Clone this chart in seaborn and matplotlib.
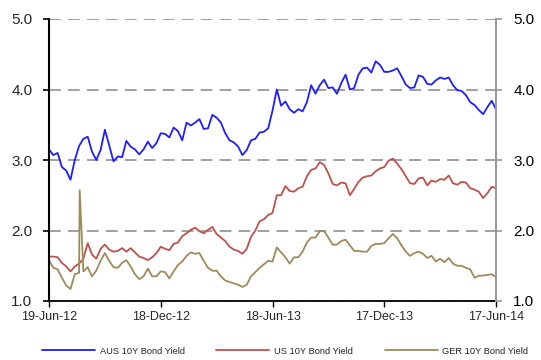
import matplotlib
matplotlib.use("Agg")
import matplotlib.pyplot as plt
import matplotlib.dates as mdates
from matplotlib.lines import Line2D
import seaborn as sns
import pandas as pd

# ---- data (weekly readings starting 19-Jun-2012) ----
start_date = "2012-06-19"
n_weeks = 105

aus = [3.15, 3.07, 3.10, 2.90, 2.85, 2.72, 3.00, 3.20, 3.30, 3.33,
       3.12, 3.00, 3.14, 3.43, 3.21, 2.98, 3.05, 3.04, 3.27, 3.19,
       3.15, 3.08, 3.15, 3.26, 3.17, 3.24, 3.38, 3.37, 3.32, 3.46,
       3.41, 3.28, 3.53, 3.49, 3.53, 3.58, 3.44, 3.45, 3.64, 3.60,
       3.53, 3.38, 3.28, 3.25, 3.19, 3.07, 3.14, 3.28, 3.30, 3.39,
       3.40, 3.45, 3.70, 4.00, 3.77, 3.83, 3.72, 3.67, 3.72, 3.69,
       3.82, 4.06, 3.94, 4.06, 4.14, 4.02, 4.03, 3.94, 4.09, 4.21,
       4.00, 4.02, 4.21, 4.30, 4.31, 4.24, 4.40, 4.35, 4.25, 4.25,
       4.27, 4.30, 4.19, 4.07, 4.02, 4.03, 4.20, 4.18, 4.08, 4.07,
       4.13, 4.17, 4.15, 4.17, 4.06, 3.99, 3.98, 3.92, 3.82, 3.78,
       3.71, 3.65, 3.75, 3.84, 3.72]

us = [1.63, 1.63, 1.62, 1.54, 1.49, 1.42, 1.49, 1.53, 1.60, 1.82,
      1.66, 1.60, 1.74, 1.80, 1.73, 1.70, 1.71, 1.75, 1.70, 1.75,
      1.69, 1.63, 1.61, 1.58, 1.62, 1.68, 1.77, 1.74, 1.72, 1.81,
      1.83, 1.92, 1.96, 2.01, 2.04, 1.99, 1.96, 2.01, 2.05, 1.95,
      1.90, 1.85, 1.77, 1.73, 1.71, 1.67, 1.74, 1.91, 2.00, 2.13,
      2.16, 2.22, 2.25, 2.50, 2.50, 2.63, 2.56, 2.55, 2.60, 2.62,
      2.77, 2.86, 2.88, 2.97, 2.93, 2.81, 2.66, 2.64, 2.68, 2.67,
      2.50, 2.59, 2.69, 2.75, 2.77, 2.78, 2.84, 2.88, 2.90, 2.99,
      3.02, 2.95, 2.87, 2.77, 2.67, 2.66, 2.74, 2.75, 2.64, 2.71,
      2.69, 2.73, 2.72, 2.78, 2.67, 2.65, 2.69, 2.68, 2.60, 2.58,
      2.55, 2.46, 2.53, 2.62, 2.60]

ger = [1.58, 1.47, 1.45, 1.33, 1.22, 1.17, 1.38, 1.40, 1.42, 1.48,
       1.35, 1.43, 1.57, 1.68, 1.57, 1.48, 1.47, 1.54, 1.58, 1.49,
       1.38, 1.31, 1.35, 1.46, 1.35, 1.35, 1.42, 1.41, 1.32, 1.42,
       1.51, 1.56, 1.64, 1.69, 1.67, 1.68, 1.57, 1.47, 1.43, 1.43,
       1.35, 1.29, 1.27, 1.25, 1.23, 1.20, 1.23, 1.35, 1.41, 1.47,
       1.52, 1.57, 1.56, 1.76, 1.69, 1.62, 1.53, 1.62, 1.62, 1.70,
       1.83, 1.90, 1.90, 1.99, 1.99, 1.90, 1.80, 1.80, 1.85, 1.87,
       1.79, 1.71, 1.71, 1.70, 1.70, 1.78, 1.81, 1.81, 1.82, 1.89,
       1.95, 1.89, 1.79, 1.70, 1.64, 1.68, 1.70, 1.67, 1.61, 1.64,
       1.56, 1.60, 1.55, 1.61, 1.53, 1.50, 1.50, 1.47, 1.45, 1.33,
       1.36, 1.36, 1.37, 1.38, 1.34]

# one-day spike in the GER series
ger_spike_dates = ["2012-08-08"]
ger_spike_values = [2.57]

series_names = ["AUS 10Y Bond Yield", "US 10Y Bond Yield", "GER 10Y Bond Yield"]
colors = ["#1E1EFF", "#C0504D", "#9B8C5A"]
x_tick_dates = ["2012-06-19", "2012-12-18", "2013-06-18", "2013-12-17", "2014-06-17"]
y_ticks = [1.0, 2.0, 3.0, 4.0, 5.0]

# ---- build long table ----
dates = pd.date_range(start_date, periods=n_weeks, freq="7D")
frames = []
for name, vals in zip(series_names, [aus, us, ger]):
    frames.append(pd.DataFrame({"date": dates, "value": vals, "series": name}))
frames.append(pd.DataFrame({"date": pd.to_datetime(ger_spike_dates),
                            "value": ger_spike_values, "series": series_names[2]}))
df = pd.concat(frames, ignore_index=True).sort_values(["series", "date"])

# ---- plot ----
sns.set_style("white")
plt.rcParams["font.family"] = ["Liberation Sans", "DejaVu Sans"]

fig = plt.figure(figsize=(5.41, 3.6), dpi=100)
ax = fig.add_axes([49 / 541, 1 - 301 / 360, (496 - 49) / 541, (301 - 19) / 360])

palette = dict(zip(series_names, colors))
sns.lineplot(data=df, x="date", y="value", hue="series", hue_order=series_names,
             palette=palette, estimator=None, linewidth=1.3, legend=False, ax=ax)

ax.set_xlim(pd.Timestamp(x_tick_dates[0]), pd.Timestamp(x_tick_dates[-1]))
ax.set_ylim(1.0, 5.0)
ax.set_xlabel("")
ax.set_ylabel("")
ax.set_xticks(pd.to_datetime(x_tick_dates))
ax.xaxis.set_major_formatter(mdates.DateFormatter("%d-%b-%y"))
ax.set_yticks(y_ticks)
ax.set_yticklabels([f"{v:.1f}" for v in y_ticks])

ax.yaxis.grid(True, linestyle=(0, (6.5, 4)), color="#999999", linewidth=1.3)
ax.xaxis.grid(False)
ax.set_axisbelow(True)

for s in ["top", "right"]:
    ax.spines[s].set_visible(False)
ax.spines["left"].set_color("black")
ax.spines["left"].set_linewidth(1.5)
ax.spines["bottom"].set_color("black")
ax.spines["bottom"].set_linewidth(1.3)

ax.tick_params(axis="y", which="major", direction="out", length=4, width=1.2,
               color="black", labelsize=11, pad=8, left=True)
ax.tick_params(axis="x", which="major", direction="out", length=4, width=1.0,
               color="black", labelsize=9, pad=3.5, bottom=True)

# right axis duplicate
ax2 = ax.twinx()
ax2.set_ylim(1.0, 5.0)
ax2.set_yticks(y_ticks)
ax2.set_yticklabels([f"{v:.1f}" for v in y_ticks])
ax2.grid(False)
for s in ["top", "left", "bottom"]:
    ax2.spines[s].set_visible(False)
ax2.spines["right"].set_color("#999999")
ax2.spines["right"].set_linewidth(1.5)
ax2.tick_params(axis="y", direction="out", length=4, width=1.2, color="#999999",
                labelcolor="black", labelsize=11, pad=8.5, right=True)

handles = [Line2D([0], [0], color=c, lw=1.3) for c in colors]
fig.legend(handles, series_names, loc="center left", bbox_to_anchor=(42 / 541, 1 - 351 / 360),
           ncol=3, frameon=False, fontsize=6.7, handlelength=5.7, handletextpad=0.5,
           columnspacing=3.4, borderpad=0, borderaxespad=0)

fig.savefig("out.png", dpi=100)
